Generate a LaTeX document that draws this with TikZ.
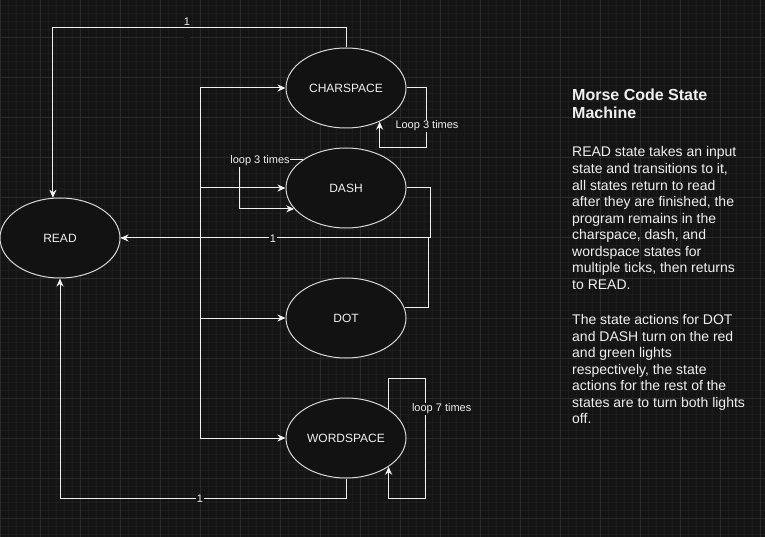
\documentclass[tikz,border=0pt]{standalone}
\usepackage{fontspec}
\setmainfont{Liberation Sans}
\usetikzlibrary{arrows.meta,shapes.geometric}
\definecolor{bg}{HTML}{141414}
\definecolor{gridmin}{HTML}{1C1C1C}
\definecolor{gridmaj}{HTML}{2A2A2A}
\definecolor{ink}{HTML}{F0F0F0}
\definecolor{ellstroke}{HTML}{D8D8D8}
\definecolor{ellfill}{HTML}{121212}
\begin{document}
\begin{tikzpicture}[x=1pt,y=-1pt,
  state/.style={ellipse, draw=ellstroke, fill=ellfill, line width=1pt,
    minimum width=120pt, minimum height=80pt, inner sep=0pt, text=ink,
    font=\fontsize{12}{14}\selectfont},
  wire/.style={draw=ink, line width=1pt},
  arr/.style={wire, -{Stealth[length=8pt,width=7pt,inset=2.5pt]}},
  elabel/.style={fill=bg, text=ink, inner sep=0.6pt, font=\fontsize{11}{13}\selectfont},
  para/.style={anchor=base west, align=left, text=ink, inner sep=0pt},
]
\useasboundingbox (0,0) rectangle (765,537);
\fill[bg] (0,0) rectangle (765,537);
\foreach \x in {0,8,...,765} \draw[gridmin, line width=1pt] (\x,0) -- (\x,537);
\foreach \y in {6,14,...,537} \draw[gridmin, line width=1pt] (0,\y) -- (765,\y);
\foreach \x in {0,40,...,765} \draw[gridmaj, line width=1pt] (\x,0) -- (\x,537);
\foreach \y in {38,78,...,537} \draw[gridmaj, line width=1pt] (0,\y) -- (765,\y);

% states
\node[state] (READ) at (60,238) {READ};
\node[state] (CHAR) at (346,88) {CHARSPACE};
\node[state] (DASH) at (346,188) {DASH};
\node[state] (DOT) at (346,318) {DOT};
\node[state] (WORD) at (346,438) {WORDSPACE};

% READ -> states
\coordinate (bus) at (200,238);
\draw[wire] (READ.east) -- (bus);
\draw[arr] (bus) |- (CHAR.west);
\draw[arr] (bus) |- (DASH.west);
\draw[arr] (bus) |- (DOT.west);
\draw[arr] (bus) |- (WORD.west);

% returns to READ
\coordinate (dotjoin) at (428,238);
\draw[arr] (DASH.east) -- ++(24,0) |- (READ.east);
\draw[wire] (DOT.10) -| (dotjoin);
\draw[arr] (WORD.south) -- ++(0,20) -| (READ.south);
\draw[arr] (CHAR.north) -- ++(0,-20) -| (READ.100);

% self loops
\draw[arr] (CHAR.east) -- ++(20,0) -- ++(0,60) -| (CHAR.-45);
\draw[arr] (DASH.147) -- ++(-63,0) |- (DASH.202);
\draw[arr] (WORD.34) |- ++(37,-31) -- ++(0,120) -| (WORD.-34);

% edge labels
\node[fill=bg, minimum width=6pt, minimum height=9pt, inner sep=0pt] (l1bg) at (187,33.5) {};
\node[text=ink, inner sep=0pt, font=\fontsize{11}{13}\selectfont] (l1) at (187,22) {1};
\node[elabel] (l2) at (273,238.5) {1};
\node[elabel] (l3) at (200,498.5) {1};
\node[elabel] (lp1) at (427,126) {Loop 3 times};
\node[elabel] (lp2) at (260,161) {loop 3 times};
\node[elabel] (lp3) at (441.7,409) {loop 7 times};

% description (base anchor = baseline of the last line)
\node[para, font=\bfseries\fontsize{16}{18.5}\selectfont] (title) at (572,119)
  {Morse Code State\\Machine};
\node[para, font=\fontsize{14}{16.58}\selectfont] (p1) at (572,289.5)
  {READ state takes an input\\state and transitions to it,\\all states return to read\\after they are finished, the\\program remains in the\\charspace, dash, and\\wordspace states for\\multiple ticks, then returns\\to READ.};
\node[para, font=\fontsize{14}{16.5}\selectfont] (p2) at (572,423.5)
  {The state actions for DOT\\and DASH turn on the red\\and green lights\\respectively, the state\\actions for the rest of the\\states are to turn both lights\\off.};
\end{tikzpicture}
\end{document}
